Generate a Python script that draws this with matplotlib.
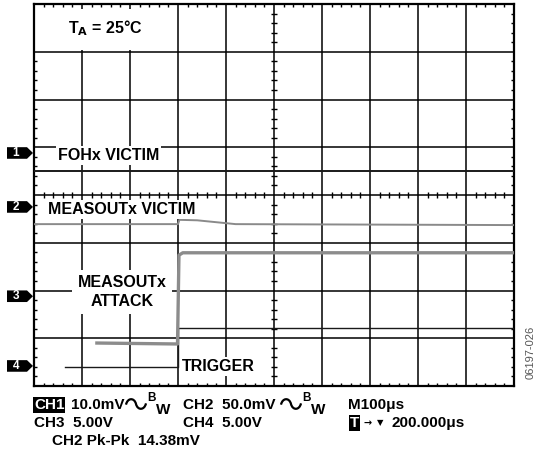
import matplotlib
matplotlib.use("Agg")
import matplotlib.pyplot as plt
from matplotlib.patches import Polygon, Rectangle, PathPatch
from matplotlib.path import Path
from matplotlib.transforms import Affine2D, blended_transform_factory

plt.rcParams["font.family"] = ["Liberation Sans", "DejaVu Sans"]
plt.rcParams["font.weight"] = "bold"

W, H = 537, 458

# scope traces: time (us) breakpoints and level (divisions from bottom)
ch1_t = [0, 1000]
ch1_v = [4.50, 4.50]
ch2_t = [0, 300, 303, 340, 420, 1000]
ch2_v = [3.39, 3.39, 3.48, 3.47, 3.39, 3.37]
ch3_t = [131, 299, 302, 310, 1000]
ch3_v = [0.90, 0.88, 2.74, 2.79, 2.79]
ch4_t = [65, 300, 300, 1000]
ch4_v = [0.40, 0.40, 1.21, 1.21]

# ground reference markers on the left edge (divisions)
marker_labels = ["1", "2", "3", "4"]
marker_levels = [4.88, 3.75, 1.88, 0.42]

n_xdiv, n_ydiv = 10, 8
us_per_div = 100


def fpos(x, y):
    return x / W, 1 - y / H


def bw_wave(x0, y0, w=20, h=13):
    # little sine-wave glyph used in the bandwidth-limit readout
    verts = [(0, -0.1), (0.08, 1.0), (0.42, 1.0), (0.5, 0),
             (0.58, -1.0), (0.92, -1.0), (1.0, 0.1)]
    codes = [Path.MOVETO] + [Path.CURVE4] * 6
    tr = (Affine2D().scale(w / W, h / 2 / H)
          .translate(x0 / W, 1 - y0 / H) + fig.transFigure)
    fig.add_artist(PathPatch(Path(verts, codes), facecolor="none",
                             edgecolor="black", lw=1.6, transform=tr))


fig = plt.figure(figsize=(W / 100, H / 100), dpi=100)
ax = fig.add_axes([34 / W, (H - 386) / H, 480 / W, 382 / H])
ax.set_xlim(0, n_xdiv * us_per_div)
ax.set_ylim(0, n_ydiv)
ax.set_xticks([])
ax.set_yticks([])
for s in ax.spines.values():
    s.set_linewidth(1.6)

# graticule
for i in range(1, n_xdiv):
    ax.axvline(i * us_per_div, color="black", lw=1.1, zorder=1)
for j in range(1, n_ydiv):
    ax.axhline(j, color="black", lw=1.1, zorder=1)

# minor ticks on the edges and centre cross
tx = 3.2 / 48 * us_per_div
ty = 3.2 / 47.75
xc = n_xdiv * us_per_div / 2
yc = n_ydiv / 2
for k in range(n_xdiv * 5):
    if k % 5 == 0:
        continue
    x = k / 5 * us_per_div
    ax.vlines(x, n_ydiv - ty, n_ydiv, color="black", lw=1.0, zorder=1)
    ax.vlines(x, 0, ty, color="black", lw=1.0, zorder=1)
    ax.vlines(x, yc - ty, yc + ty, color="black", lw=1.0, zorder=1)
for k in range(n_ydiv * 5):
    if k % 5 == 0:
        continue
    y = k / 5
    ax.hlines(y, 0, tx, color="black", lw=1.0, zorder=1)
    ax.hlines(y, n_xdiv * us_per_div - tx, n_xdiv * us_per_div,
              color="black", lw=1.0, zorder=1)
    ax.hlines(y, xc - tx, xc + tx, color="black", lw=1.0, zorder=1)

# blank area behind the temperature note
ax.add_patch(Rectangle((3, 7.04), 280, 0.86, facecolor="white",
                       edgecolor="none", zorder=2))

# traces
ax.plot(ch1_t, ch1_v, color="#1a1a1a", lw=1.4, zorder=3)
ax.plot(ch2_t, ch2_v, color="#8a8a8a", lw=1.4, zorder=3)
ax.plot(ch4_t, ch4_v, color="#1a1a1a", lw=1.0, zorder=3)
ax.plot(ch3_t, ch3_v, color="#8c8c8c", lw=2.4, zorder=4)

# in-plot labels
lbl = dict(fontsize=11.5, fontweight="bold", zorder=5)
box = dict(facecolor="white", edgecolor="none", pad=1.5)
ax.text(71, 7.50, r"T$_\mathbf{A}$ = 25°C", ha="left", va="center", **lbl)
ax.text(50, 4.82, "FOHx VICTIM", ha="left", va="center", bbox=box, **lbl)
ax.text(29, 3.70, "MEASOUTx VICTIM", ha="left", va="center", bbox=box, **lbl)
ax.text(183, 1.97, "MEASOUTx\nATTACK", ha="center", va="center",
        linespacing=1.3, bbox=dict(facecolor="white", edgecolor="none",
                                   pad=4), **lbl)
ax.text(309, 0.40, "TRIGGER", ha="left", va="center", bbox=box, **lbl)

# channel reference markers
btr = blended_transform_factory(ax.transAxes, ax.transData)
x0, x1, x2 = (7 - 34) / 480, (27 - 34) / 480, (33 - 34) / 480
hh = 5.8 / 47.75
for lab, lev in zip(marker_labels, marker_levels):
    ax.add_patch(Polygon([(x0, lev - hh), (x1, lev - hh), (x2, lev),
                          (x1, lev + hh), (x0, lev + hh)], closed=True,
                         facecolor="black", edgecolor="none",
                         transform=btr, clip_on=False))
    ax.text((16 - 34) / 480, lev, lab, transform=btr, color="white",
            fontsize=8.5, fontweight="bold", ha="center", va="center")

# settings readout below the screen
ft = dict(fontsize=11, fontweight="bold", va="center")
inv = dict(facecolor="black", edgecolor="none", pad=0.6)
fig.text(*fpos(34, 405), "CH1", color="white", bbox=inv, **ft)
fig.text(*fpos(71, 405), "10.0mV", **ft)
bw_wave(126, 404)
fig.text(*fpos(147, 398), "B", fontsize=8.5, fontweight="bold", va="center")
fig.text(*fpos(156, 410), "W", **ft)
fig.text(*fpos(183, 405), "CH2  50.0mV", **ft)
bw_wave(281, 404)
fig.text(*fpos(302, 398), "B", fontsize=8.5, fontweight="bold", va="center")
fig.text(*fpos(311, 410), "W", **ft)
fig.text(*fpos(348, 405), "M100μs", **ft)

fig.text(*fpos(34, 423), "CH3  5.00V", **ft)
fig.text(*fpos(183, 423), "CH4  5.00V", **ft)
fig.text(*fpos(350, 423), "T", color="white", bbox=inv, **ft)
fig.text(*fpos(363, 423), "→", fontsize=7, va="center",
         family=["DejaVu Sans"])
fig.text(*fpos(377, 423), "▼", fontsize=6, va="center",
         family=["DejaVu Sans"])
fig.text(*fpos(392, 423), "200.000μs", **ft)

fig.text(*fpos(52, 441), "CH2 Pk-Pk  14.38mV", **ft)

fig.text(*fpos(531, 352), "06197-026", rotation=90, fontsize=8,
         fontweight="normal", color="#555555", ha="center", va="center")

fig.savefig("out.png", dpi=100)
